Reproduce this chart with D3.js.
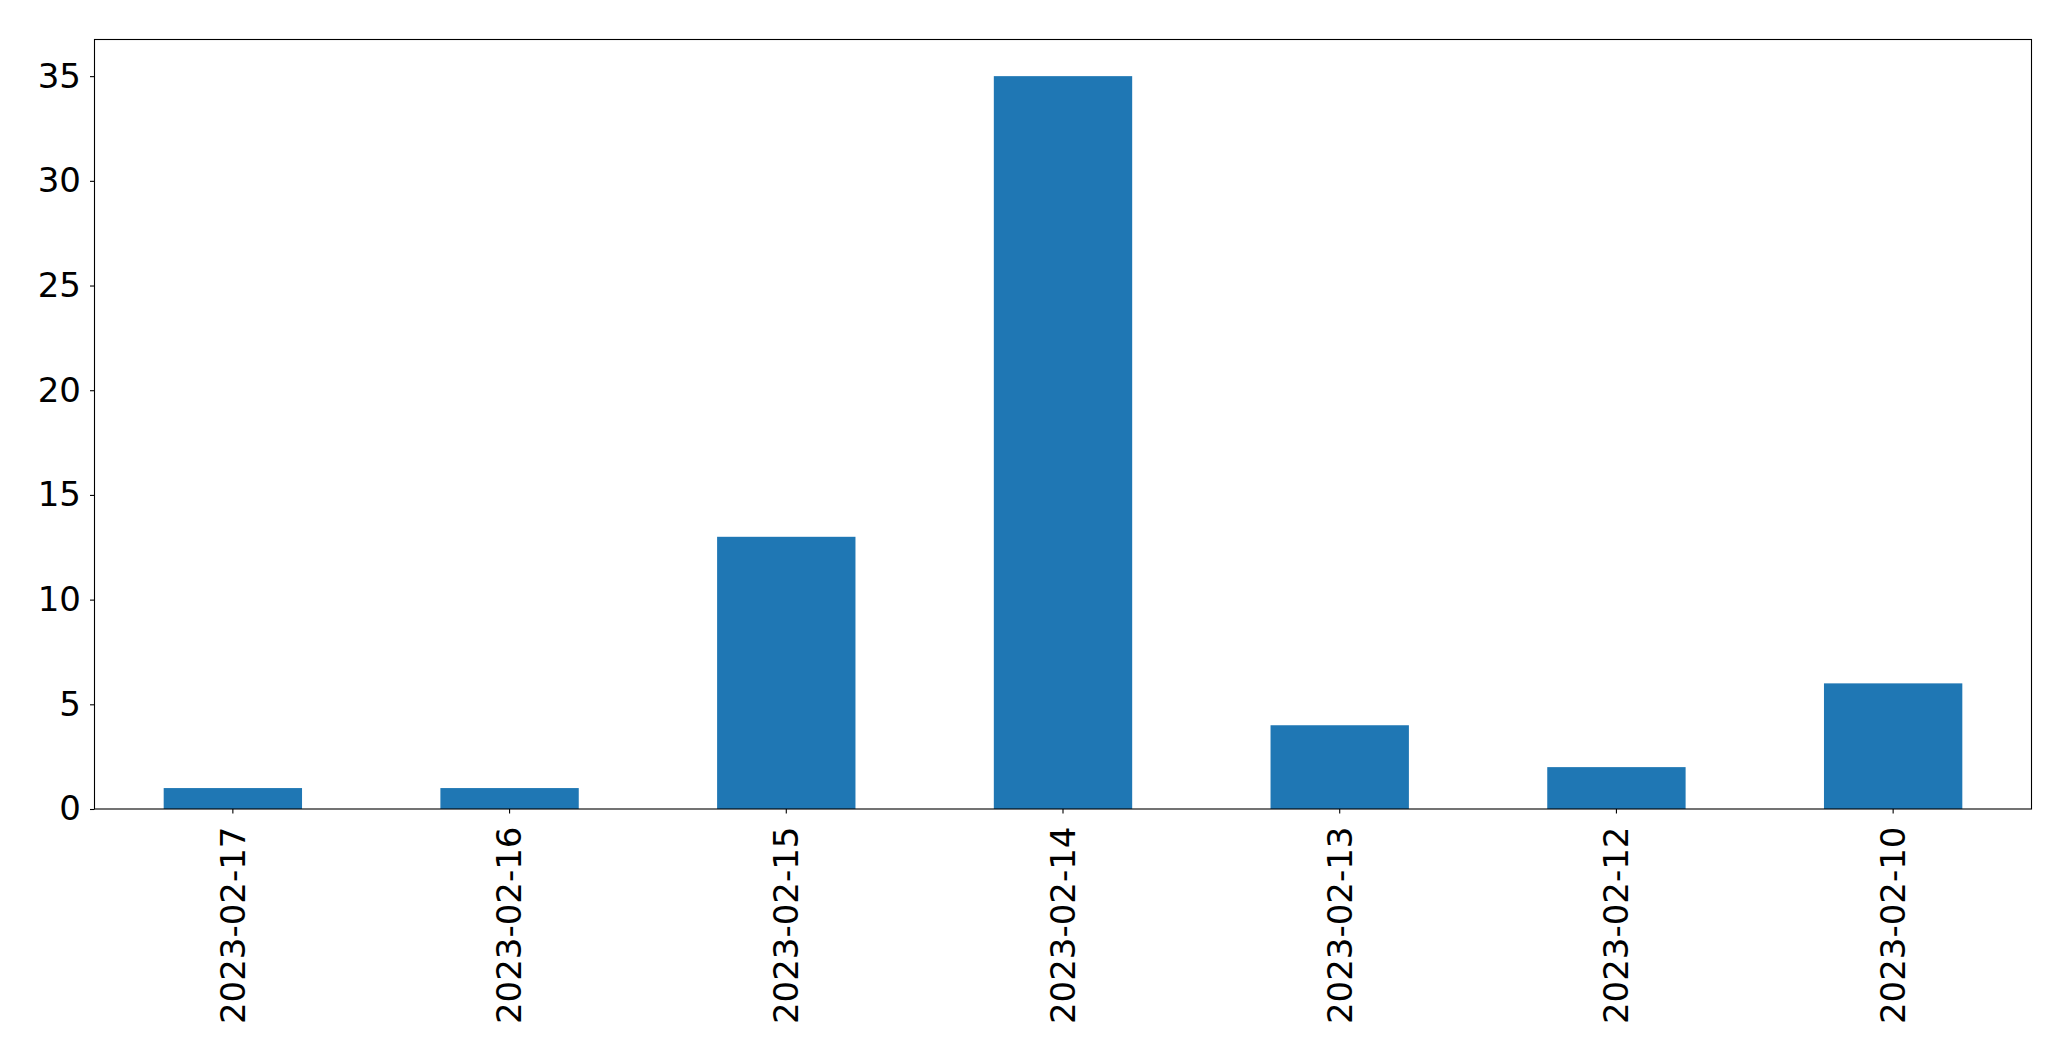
<!DOCTYPE html>
<html><head><meta charset="utf-8">
<script src="https://cdn.jsdelivr.net/npm/d3@7"></script>
<style>body{margin:0;background:#fff;} svg{display:block;}</style>
</head><body>
<script>
const categories = ["2023-02-17","2023-02-16","2023-02-15","2023-02-14","2023-02-13","2023-02-12","2023-02-10"];
const values = [1, 1, 13, 35, 4, 2, 6];
const yTicks = [0, 5, 10, 15, 20, 25, 30, 35];

const W = 2071, H = 1061;
const L = 94.5, R = 2031.5, T = 39.5, B = 809;
const svg = d3.select("body").append("svg").attr("width", W).attr("height", H);

const x = d3.scaleBand().domain(categories).range([L, R]).paddingInner(0.5).paddingOuter(0.25);
const y = d3.scaleLinear().domain([0, 36.75]).range([B, T]);

svg.selectAll("rect.bar").data(values).join("rect").attr("class","bar")
  .attr("x", (d,i) => x(categories[i]))
  .attr("width", x.bandwidth())
  .attr("y", d => y(d))
  .attr("height", d => B - y(d))
  .attr("fill", "#1f77b4");

const font = "'DejaVu Sans', sans-serif";
const yAxis = svg.append("g").attr("transform", `translate(${L},0)`)
  .call(d3.axisLeft(y).tickValues(yTicks).tickSize(4.5).tickPadding(9).tickFormat(d3.format("d")));
yAxis.select(".domain").remove();
yAxis.selectAll("text").attr("font-family", font).attr("font-size", 34).attr("fill", "#000");
yAxis.selectAll("line").attr("stroke", "#000").attr("stroke-width", 1.1);

const xAxis = svg.append("g").attr("transform", `translate(0,${B})`)
  .call(d3.axisBottom(x).tickSize(4.5).tickPadding(9));
xAxis.select(".domain").remove();
xAxis.selectAll("line").attr("stroke", "#000").attr("stroke-width", 1.1);
xAxis.selectAll("text").attr("font-family", font).attr("font-size", 34).attr("fill", "#000")
  .attr("transform", "rotate(-90)")
  .attr("text-anchor", "end")
  .attr("x", -17.5).attr("y", 0).attr("dy", "0.35em");

svg.append("rect").attr("x", L).attr("y", T).attr("width", R - L).attr("height", B - T)
  .attr("fill", "none").attr("stroke", "#000").attr("stroke-width", 1.1);
</script>
</body></html>
